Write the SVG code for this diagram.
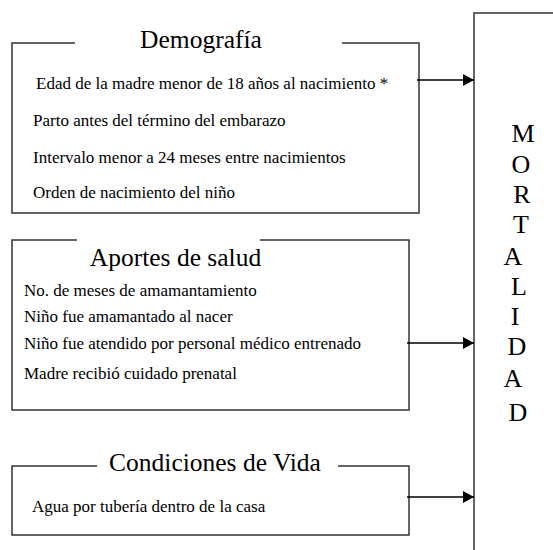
<svg xmlns="http://www.w3.org/2000/svg" width="553" height="550" viewBox="0 0 553 550">
<defs>
<style>
.box{fill:none;stroke:#333;stroke-width:1.5}
.conn{stroke:#000;stroke-width:1.5;fill:none}
.title{font-size:25.5px;fill:#000;text-anchor:middle}
.item{font-size:17px;fill:#000}
.big{font-size:26px;fill:#000;text-anchor:middle}
</style>
<marker id="arr" markerWidth="11" markerHeight="12" refX="11" refY="6" orient="auto" markerUnits="userSpaceOnUse">
<path d="M0,0 L11,6 L0,12 Z" fill="#000"/>
</marker>
</defs>
<rect width="553" height="550" fill="#fff"/>
<g font-family="'Liberation Serif', 'DejaVu Serif', serif">
<g id="demografia">
<path class="box" d="M75,43 H12 V213 H419 V43 H342"/>
<text class="title" x="201" y="48">Demografía</text>
<text class="item" x="36" y="89">Edad de la madre menor de 18 años al nacimiento *</text>
<text class="item" x="33" y="126">Parto antes del término del embarazo</text>
<text class="item" x="33" y="163">Intervalo menor a 24 meses entre nacimientos</text>
<text class="item" x="33" y="198">Orden de nacimiento del niño</text>
</g>
<g id="aportes">
<path class="box" d="M77,240 H12 V410 H409 V240 H260"/>
<text class="title" x="175.5" y="266">Aportes de salud</text>
<text class="item" x="24" y="296">No. de meses de amamantamiento</text>
<text class="item" x="24" y="322">Niño fue amamantado al nacer</text>
<text class="item" x="24" y="349">Niño fue atendido por personal médico entrenado</text>
<text class="item" x="24" y="379">Madre recibió cuidado prenatal</text>
</g>
<g id="condiciones">
<path class="box" d="M97,466 H12 V535 H409 V466 H338"/>
<text class="title" x="215" y="471">Condiciones de Vida</text>
<text class="item" x="32" y="512">Agua por tubería dentro de la casa</text>
</g>
<g id="mortalidad">
<path class="box" d="M560,13 H474 V560"/>
<text class="big" x="523" y="142">M</text>
<text class="big" x="521" y="173">O</text>
<text class="big" x="522" y="203">R</text>
<text class="big" x="521" y="233">T</text>
<text class="big" x="513" y="265">A</text>
<text class="big" x="519" y="295">L</text>
<text class="big" x="515" y="325">I</text>
<text class="big" x="517" y="355">D</text>
<text class="big" x="513" y="387">A</text>
<text class="big" x="518" y="421">D</text>
</g>
</g>
<g id="connectors">
<line class="conn" x1="417" y1="80" x2="474" y2="80" marker-end="url(#arr)"/>
<line class="conn" x1="407" y1="343" x2="474" y2="343" marker-end="url(#arr)"/>
<line class="conn" x1="407" y1="497" x2="474" y2="497" marker-end="url(#arr)"/>
</g>
</svg>
